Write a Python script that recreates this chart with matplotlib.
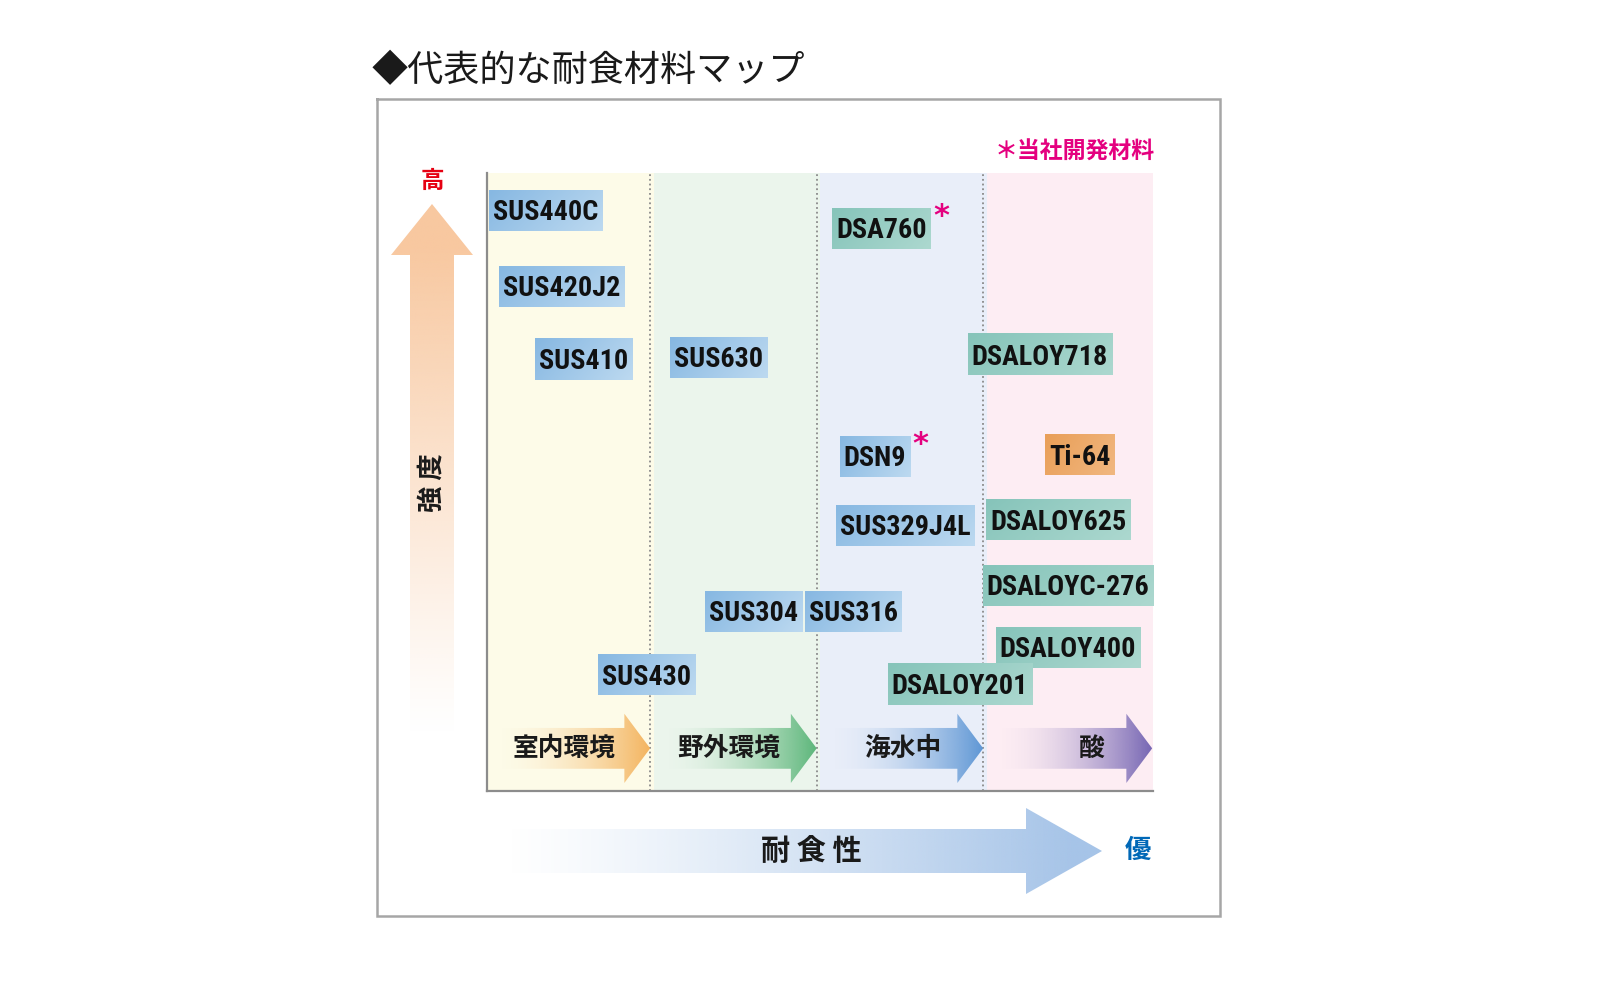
import numpy as np
import matplotlib
matplotlib.use('Agg')
import matplotlib.pyplot as plt
from matplotlib.patches import Polygon
from matplotlib.colors import to_rgb
from matplotlib import font_manager
import matplotlib.transforms as mtransforms

plt.rcParams['font.family'] = ['Noto Sans CJK JP', 'DejaVu Sans']

W, H, DPI = 1600, 989, 100

# ---------------- data ----------------
title = '◆代表的な耐食材料マップ'
note = '＊当社開発材料'
zones = ['室内環境', '野外環境', '海水中', '酸']
zone_bg = ['#fdfbe8', '#ebf5ec', '#e9eef9', '#fdedf3']
zone_arrow = ['#f4b45f', '#5cb67a', '#5f97d5', '#7565b3']
zone_label_x = [0.46, 1.45, 2.50, 3.63]

materials = ['SUS440C', 'SUS420J2', 'SUS410', 'SUS630', 'DSA760', 'DSALOY718',
             'DSN9', 'Ti-64', 'SUS329J4L', 'DSALOY625', 'DSALOYC-276', 'SUS304',
             'SUS316', 'DSALOY400', 'SUS430', 'DSALOY201']
corrosion = [0.35, 0.45, 0.58, 1.39, 2.37, 3.32, 2.33, 3.56, 2.51, 3.43, 3.49,
             1.60, 2.20, 3.49, 0.96, 2.84]
strength = [94.0, 81.7, 69.9, 70.2, 91.1, 70.6, 54.2, 54.4, 43.0, 43.9, 33.3,
            29.1, 29.1, 23.3, 18.8, 17.3]
group = ['blue', 'blue', 'blue', 'blue', 'teal', 'teal', 'blue', 'orange', 'blue',
         'teal', 'teal', 'blue', 'blue', 'teal', 'blue', 'teal']
own_dev = ['DSA760', 'DSN9']

box_colors = {'blue': ('#87b8e2', '#bcd9f0'),
              'teal': ('#86c4ba', '#acd8cf'),
              'orange': ('#e99f58', '#f1b77f')}

# ---------------- pick a condensed font for labels ----------------
names = {f.name for f in font_manager.fontManager.ttflist}
cond_dejavu = any(f.name == 'DejaVu Sans' and f.stretch == 'condensed'
                  for f in font_manager.fontManager.ttflist)
label_family = None
label_stretch = 'normal'
for cand in ['Roboto Condensed', 'Liberation Sans Narrow', 'Open Sans Condensed',
             'Noto Sans Condensed', 'DejaVu Sans Condensed']:
    if cand in names:
        label_family = cand
        break
if label_family is None:
    if cond_dejavu:
        label_family = 'DejaVu Sans'
        label_stretch = 'condensed'
    else:
        label_family = 'Noto Sans CJK JP'

# ---------------- figure ----------------
fig = plt.figure(figsize=(W / DPI, H / DPI), dpi=DPI)
fig.patch.set_facecolor('white')

deco = fig.add_axes([0, 0, 1, 1])
deco.set_xlim(0, W)
deco.set_ylim(H, 0)
deco.set_autoscale_on(False)
deco.axis('off')

L, R, T, B = 487, 1153, 173, 791
ax = fig.add_axes([L / W, 1 - B / H, (R - L) / W, (B - T) / H])
ax.set_xlim(0, 4)
ax.set_ylim(0, 100)
ax.set_autoscale_on(False)
ax.set_xticks([])
ax.set_yticks([])
for s in ['top', 'right']:
    ax.spines[s].set_visible(False)
for s in ['left', 'bottom']:
    ax.spines[s].set_color('#8c8c8c')
    ax.spines[s].set_linewidth(1.6)
ax.patch.set_alpha(0)

renderer = fig.canvas.get_renderer()

# choose label font size so that "SUS440C" is about 105 px wide
probe = fig.text(0, 0, 'SUS440C', fontsize=21, fontweight='bold',
                 family=[label_family, 'DejaVu Sans'], fontstretch=label_stretch)
pw = probe.get_window_extent(renderer=renderer).width
probe.remove()
fs = min(22.0, 21.0 * 105.0 / pw)


def grad_poly(axis, verts, color, direction, extent, alpha_fn, z):
    poly = Polygon(verts, closed=True, facecolor='none', edgecolor='none')
    axis.add_patch(poly)
    n = 256
    t = np.linspace(0, 1, n)
    a = alpha_fn(t)
    rgb = to_rgb(color)
    if direction == 'h':
        img = np.zeros((2, n, 4))
        img[..., :3] = rgb
        img[..., 3] = a[None, :]
    else:
        img = np.zeros((n, 2, 4))
        img[..., :3] = rgb
        img[..., 3] = a[:, None]
    im = axis.imshow(img, extent=extent, origin='upper', aspect='auto',
                     zorder=z, interpolation='bilinear')
    im.set_clip_path(poly)
    return im


# ---------------- deco: frame, title, note ----------------
deco.plot([377, 1220, 1220, 377, 377], [99, 99, 916, 916, 99],
          color='#a6a6a6', lw=1.8, solid_joinstyle='miter')
deco.text(372, 71, title, fontsize=26, ha='left', va='center', color='#1a1a1a')
deco.text(1075, 152, note, fontsize=16.5, ha='center', va='center',
          color='#e4007f', fontweight='bold')

# vertical strength arrow
vx, sh, hh = 432, 22, 41
v_tip, v_base, v_end = 204, 255, 735
verts = [(vx - sh, v_end), (vx - sh, v_base), (vx - hh, v_base), (vx, v_tip),
         (vx + hh, v_base), (vx + sh, v_base), (vx + sh, v_end)]
grad_poly(deco, verts, '#f8c8a0', 'v', (vx - hh, vx + hh, v_end, v_tip),
          lambda t: np.clip(1 - (t - 0.08) / 0.92, 0, 1) ** 1.1, 1)
deco.text(vx, 181, '高', fontsize=17, fontweight='bold', color='#e60012',
          ha='center', va='center')
deco.text(vx, 483, '強 度', fontsize=19, fontweight='bold', color='#1a1a1a',
          ha='center', va='center', rotation=90)

# horizontal corrosion arrow
hy, hsh, hhh = 851, 22, 43
h_start, h_base, h_tip = 505, 1026, 1102
verts = [(h_start, hy - hsh), (h_base, hy - hsh), (h_base, hy - hhh), (h_tip, hy),
         (h_base, hy + hhh), (h_base, hy + hsh), (h_start, hy + hsh)]
grad_poly(deco, verts, '#a6c4e8', 'h', (h_start, h_tip, hy + hhh, hy - hhh),
          lambda t: np.clip(t * 1.05, 0, 1) ** 1.2, 1)
deco.text(811, 851, '耐 食 性', fontsize=21, fontweight='bold', color='#1a1a1a',
          ha='center', va='center')
deco.text(1138, 850, '優', fontsize=19, fontweight='bold', color='#0068b7',
          ha='center', va='center')

# ---------------- inner axes ----------------
for i, name in enumerate(zones):
    ax.axvspan(i, i + 1, color=zone_bg[i], lw=0, zorder=0)
    if i > 0:
        ax.axvline(i - 0.02, color='#8a8a8a', lw=1.3, ls=(0, (1, 1.6)), zorder=1)

yc, s_h, h_h, h_len = 6.9, 3.3, 5.6, 0.155
for i, name in enumerate(zones):
    x0 = i + 0.05
    tip = i + 0.98 if i < 3 else 3.995
    base = tip - h_len
    verts = [(x0, yc - s_h), (base, yc - s_h), (base, yc - h_h), (tip, yc),
             (base, yc + h_h), (base, yc + s_h), (x0, yc + s_h)]
    grad_poly(ax, verts, zone_arrow[i], 'h', (x0, tip, yc - h_h, yc + h_h),
              lambda t: np.clip(t, 0, 1) ** 1.8, 2)
    ax.text(zone_label_x[i], yc, name, fontsize=18.5, fontweight='bold',
            color='#1a1a1a', ha='center', va='center', zorder=4)

# material labels with gradient boxes
cap_px = 0.71 * fs * DPI / 72.0
inv = ax.transData.inverted()
for name, cx, cy, g in zip(materials, corrosion, strength, group):
    tr = mtransforms.offset_copy(ax.transData, fig=fig, x=0, y=-cap_px / 2, units='dots')
    t = ax.text(cx, cy, name, fontsize=fs, fontweight='bold',
                family=[label_family, 'DejaVu Sans'], fontstretch=label_stretch,
                color='#111111', ha='center', va='baseline', transform=tr, zorder=6)
    bb = t.get_window_extent(renderer=renderer)
    px, py = ax.transData.transform((cx, cy))
    wpx = bb.width + 8
    hpx = 41
    (bx0, by0) = inv.transform((px - wpx / 2, py - hpx / 2))
    (bx1, by1) = inv.transform((px + wpx / 2, py + hpx / 2))
    c1, c2 = np.array(to_rgb(box_colors[g][0])), np.array(to_rgb(box_colors[g][1]))
    u = np.linspace(0, 1, 40)[None, :]
    v = np.linspace(0, 1, 10)[:, None]
    f = np.clip(0.75 * u + 0.25 * v, 0, 1)
    img = c1[None, None, :] * (1 - f[..., None]) + c2[None, None, :] * f[..., None]
    ax.imshow(img, extent=(bx0, bx1, by0, by1), origin='upper', aspect='auto',
              zorder=5, interpolation='bilinear')
    if name in own_dev:
        ax_pt = inv.transform((px + wpx / 2 + 10, py + hpx / 2 - 9))
        ax.text(ax_pt[0], ax_pt[1], '*', fontsize=22, fontweight='bold',
                color='#e4007f', ha='center', va='center', zorder=6,
                family=['DejaVu Sans'])

ax.set_xlim(0, 4)
ax.set_ylim(0, 100)
deco.set_xlim(0, W)
deco.set_ylim(H, 0)

fig.savefig('out.png', dpi=DPI, facecolor='white')
